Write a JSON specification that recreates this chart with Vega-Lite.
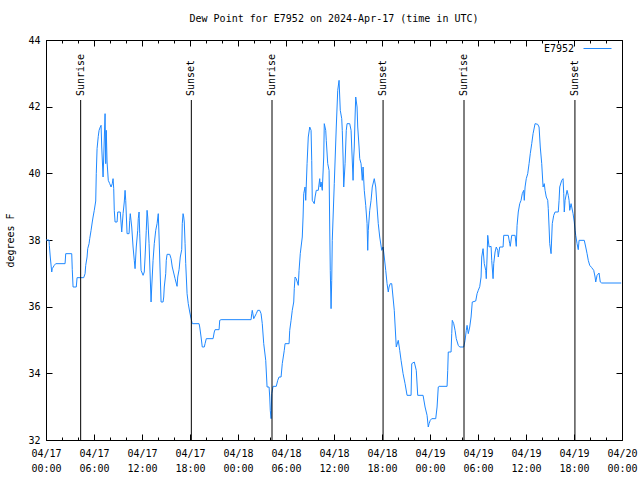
{
"$schema": "https://vega.github.io/schema/vega-lite/v6.json",
"width": 576, "height": 400,
"autosize": {"type": "none"},
"padding": {"left": 46, "top": 40, "right": 18, "bottom": 40},
"background": "white",
"title": {"text": "Dew Point for E7952 on 2024-Apr-17 (time in UTC)", "font": "DejaVu Sans Mono", "fontSize": 10, "fontWeight": "normal", "offset": 10, "anchor": "middle", "color": "black"},
"config": {"view": {"stroke": "black", "strokeWidth": 1}, "axis": {"labelFont": "DejaVu Sans Mono", "labelFontSize": 10, "labelColor": "black", "titleFont": "DejaVu Sans Mono", "titleFontSize": 10, "titleFontWeight": "normal", "titleColor": "black", "tickColor": "black", "domain": false, "grid": false}},
"resolve": {"axis": {"x": "independent", "y": "independent"}},
"datasets": {
"dew": [
{"time":"2024-04-17T00:00Z","dewpoint":38.0},{"time":"2024-04-17T00:23Z","dewpoint":38.0},{"time":"2024-04-17T00:25Z","dewpoint":37.84},{"time":"2024-04-17T00:32Z","dewpoint":37.49},{"time":"2024-04-17T00:43Z","dewpoint":37.04},{"time":"2024-04-17T00:47Z","dewpoint":37.14},{"time":"2024-04-17T01:02Z","dewpoint":37.24},{"time":"2024-04-17T01:13Z","dewpoint":37.29},{"time":"2024-04-17T02:23Z","dewpoint":37.29},{"time":"2024-04-17T02:28Z","dewpoint":37.59},{"time":"2024-04-17T03:13Z","dewpoint":37.59},{"time":"2024-04-17T03:17Z","dewpoint":37.11},{"time":"2024-04-17T03:23Z","dewpoint":36.59},{"time":"2024-04-17T03:47Z","dewpoint":36.59},{"time":"2024-04-17T03:53Z","dewpoint":36.87},{"time":"2024-04-17T04:43Z","dewpoint":36.87},{"time":"2024-04-17T04:53Z","dewpoint":36.99},{"time":"2024-04-17T04:58Z","dewpoint":37.24},{"time":"2024-04-17T05:08Z","dewpoint":37.49},{"time":"2024-04-17T05:13Z","dewpoint":37.74},{"time":"2024-04-17T05:23Z","dewpoint":37.89},{"time":"2024-04-17T05:28Z","dewpoint":38.04},{"time":"2024-04-17T05:38Z","dewpoint":38.29},{"time":"2024-04-17T05:47Z","dewpoint":38.54},{"time":"2024-04-17T05:53Z","dewpoint":38.69},{"time":"2024-04-17T06:02Z","dewpoint":38.89},{"time":"2024-04-17T06:13Z","dewpoint":39.17},{"time":"2024-04-17T06:17Z","dewpoint":39.99},{"time":"2024-04-17T06:23Z","dewpoint":40.74},{"time":"2024-04-17T06:32Z","dewpoint":41.11},{"time":"2024-04-17T06:38Z","dewpoint":41.29},{"time":"2024-04-17T06:47Z","dewpoint":41.39},{"time":"2024-04-17T06:53Z","dewpoint":41.44},{"time":"2024-04-17T06:58Z","dewpoint":40.79},{"time":"2024-04-17T07:08Z","dewpoint":39.89},{"time":"2024-04-17T07:13Z","dewpoint":40.49},{"time":"2024-04-17T07:23Z","dewpoint":41.79},{"time":"2024-04-17T07:28Z","dewpoint":40.29},{"time":"2024-04-17T07:32Z","dewpoint":41.29},{"time":"2024-04-17T07:38Z","dewpoint":40.34},{"time":"2024-04-17T07:47Z","dewpoint":39.79},{"time":"2024-04-17T07:58Z","dewpoint":39.69},{"time":"2024-04-17T08:08Z","dewpoint":39.59},{"time":"2024-04-17T08:17Z","dewpoint":39.69},{"time":"2024-04-17T08:23Z","dewpoint":39.84},{"time":"2024-04-17T08:28Z","dewpoint":39.54},{"time":"2024-04-17T08:32Z","dewpoint":38.89},{"time":"2024-04-17T08:38Z","dewpoint":38.54},{"time":"2024-04-17T08:53Z","dewpoint":38.54},{"time":"2024-04-17T08:58Z","dewpoint":38.84},{"time":"2024-04-17T09:17Z","dewpoint":38.84},{"time":"2024-04-17T09:28Z","dewpoint":38.24},{"time":"2024-04-17T09:38Z","dewpoint":38.79},{"time":"2024-04-17T09:47Z","dewpoint":39.14},{"time":"2024-04-17T09:53Z","dewpoint":39.49},{"time":"2024-04-17T09:58Z","dewpoint":39.19},{"time":"2024-04-17T10:08Z","dewpoint":38.19},{"time":"2024-04-17T10:23Z","dewpoint":38.19},{"time":"2024-04-17T10:28Z","dewpoint":38.59},{"time":"2024-04-17T10:32Z","dewpoint":38.79},{"time":"2024-04-17T10:43Z","dewpoint":38.39},{"time":"2024-04-17T10:53Z","dewpoint":37.79},{"time":"2024-04-17T11:02Z","dewpoint":37.39},{"time":"2024-04-17T11:08Z","dewpoint":37.14},{"time":"2024-04-17T11:17Z","dewpoint":37.79},{"time":"2024-04-17T11:28Z","dewpoint":38.29},{"time":"2024-04-17T11:32Z","dewpoint":38.64},{"time":"2024-04-17T11:38Z","dewpoint":38.84},{"time":"2024-04-17T11:43Z","dewpoint":38.19},{"time":"2024-04-17T11:53Z","dewpoint":37.09},{"time":"2024-04-17T12:08Z","dewpoint":36.94},{"time":"2024-04-17T12:17Z","dewpoint":37.04},{"time":"2024-04-17T12:23Z","dewpoint":37.49},{"time":"2024-04-17T12:32Z","dewpoint":38.29},{"time":"2024-04-17T12:38Z","dewpoint":38.89},{"time":"2024-04-17T12:43Z","dewpoint":38.69},{"time":"2024-04-17T12:53Z","dewpoint":37.89},{"time":"2024-04-17T13:08Z","dewpoint":36.14},{"time":"2024-04-17T13:13Z","dewpoint":36.59},{"time":"2024-04-17T13:23Z","dewpoint":37.39},{"time":"2024-04-17T13:32Z","dewpoint":37.89},{"time":"2024-04-17T13:43Z","dewpoint":38.29},{"time":"2024-04-17T13:53Z","dewpoint":38.49},{"time":"2024-04-17T14:02Z","dewpoint":38.79},{"time":"2024-04-17T14:08Z","dewpoint":38.09},{"time":"2024-04-17T14:23Z","dewpoint":36.14},{"time":"2024-04-17T14:38Z","dewpoint":36.14},{"time":"2024-04-17T14:43Z","dewpoint":36.29},{"time":"2024-04-17T14:47Z","dewpoint":36.59},{"time":"2024-04-17T14:58Z","dewpoint":36.99},{"time":"2024-04-17T15:02Z","dewpoint":37.39},{"time":"2024-04-17T15:08Z","dewpoint":37.57},{"time":"2024-04-17T15:28Z","dewpoint":37.57},{"time":"2024-04-17T15:38Z","dewpoint":37.44},{"time":"2024-04-17T15:47Z","dewpoint":37.19},{"time":"2024-04-17T15:58Z","dewpoint":37.01},{"time":"2024-04-17T16:08Z","dewpoint":36.84},{"time":"2024-04-17T16:23Z","dewpoint":36.61},{"time":"2024-04-17T16:28Z","dewpoint":36.89},{"time":"2024-04-17T16:38Z","dewpoint":37.11},{"time":"2024-04-17T16:47Z","dewpoint":37.49},{"time":"2024-04-17T16:58Z","dewpoint":37.71},{"time":"2024-04-17T17:02Z","dewpoint":38.49},{"time":"2024-04-17T17:08Z","dewpoint":38.79},{"time":"2024-04-17T17:13Z","dewpoint":38.69},{"time":"2024-04-17T17:17Z","dewpoint":38.54},{"time":"2024-04-17T17:23Z","dewpoint":37.89},{"time":"2024-04-17T17:28Z","dewpoint":37.29},{"time":"2024-04-17T17:38Z","dewpoint":36.39},{"time":"2024-04-17T17:47Z","dewpoint":36.09},{"time":"2024-04-17T17:58Z","dewpoint":35.84},{"time":"2024-04-17T18:08Z","dewpoint":35.64},{"time":"2024-04-17T18:17Z","dewpoint":35.49},{"time":"2024-04-17T19:08Z","dewpoint":35.49},{"time":"2024-04-17T19:13Z","dewpoint":35.39},{"time":"2024-04-17T19:23Z","dewpoint":35.09},{"time":"2024-04-17T19:32Z","dewpoint":34.79},{"time":"2024-04-17T19:47Z","dewpoint":34.79},{"time":"2024-04-17T19:53Z","dewpoint":34.89},{"time":"2024-04-17T20:02Z","dewpoint":35.04},{"time":"2024-04-17T20:53Z","dewpoint":35.04},{"time":"2024-04-17T21:02Z","dewpoint":35.24},{"time":"2024-04-17T21:08Z","dewpoint":35.31},{"time":"2024-04-17T21:38Z","dewpoint":35.31},{"time":"2024-04-17T21:43Z","dewpoint":35.59},{"time":"2024-04-17T21:53Z","dewpoint":35.61},{"time":"2024-04-18T01:38Z","dewpoint":35.61},{"time":"2024-04-18T01:43Z","dewpoint":35.79},{"time":"2024-04-18T01:47Z","dewpoint":35.89},{"time":"2024-04-18T01:58Z","dewpoint":35.64},{"time":"2024-04-18T02:17Z","dewpoint":35.79},{"time":"2024-04-18T02:28Z","dewpoint":35.89},{"time":"2024-04-18T02:43Z","dewpoint":35.89},{"time":"2024-04-18T02:53Z","dewpoint":35.79},{"time":"2024-04-18T03:02Z","dewpoint":35.49},{"time":"2024-04-18T03:13Z","dewpoint":34.89},{"time":"2024-04-18T03:28Z","dewpoint":34.39},{"time":"2024-04-18T03:38Z","dewpoint":33.59},{"time":"2024-04-18T03:53Z","dewpoint":33.59},{"time":"2024-04-18T03:58Z","dewpoint":33.29},{"time":"2024-04-18T04:02Z","dewpoint":32.89},{"time":"2024-04-18T04:08Z","dewpoint":32.64},{"time":"2024-04-18T04:13Z","dewpoint":33.39},{"time":"2024-04-18T04:23Z","dewpoint":33.61},{"time":"2024-04-18T04:47Z","dewpoint":33.61},{"time":"2024-04-18T04:58Z","dewpoint":33.79},{"time":"2024-04-18T05:08Z","dewpoint":33.89},{"time":"2024-04-18T05:23Z","dewpoint":33.89},{"time":"2024-04-18T05:32Z","dewpoint":34.29},{"time":"2024-04-18T05:47Z","dewpoint":34.69},{"time":"2024-04-18T05:53Z","dewpoint":34.89},{"time":"2024-04-18T06:23Z","dewpoint":34.89},{"time":"2024-04-18T06:28Z","dewpoint":35.29},{"time":"2024-04-18T06:38Z","dewpoint":35.59},{"time":"2024-04-18T06:47Z","dewpoint":35.89},{"time":"2024-04-18T06:58Z","dewpoint":36.14},{"time":"2024-04-18T07:02Z","dewpoint":36.54},{"time":"2024-04-18T07:08Z","dewpoint":36.89},{"time":"2024-04-18T07:17Z","dewpoint":36.84},{"time":"2024-04-18T07:32Z","dewpoint":36.64},{"time":"2024-04-18T07:38Z","dewpoint":37.09},{"time":"2024-04-18T07:47Z","dewpoint":37.59},{"time":"2024-04-18T08:02Z","dewpoint":38.09},{"time":"2024-04-18T08:08Z","dewpoint":38.69},{"time":"2024-04-18T08:13Z","dewpoint":39.39},{"time":"2024-04-18T08:23Z","dewpoint":39.59},{"time":"2024-04-18T08:28Z","dewpoint":39.19},{"time":"2024-04-18T08:38Z","dewpoint":40.29},{"time":"2024-04-18T08:47Z","dewpoint":41.09},{"time":"2024-04-18T08:58Z","dewpoint":41.39},{"time":"2024-04-18T09:08Z","dewpoint":41.29},{"time":"2024-04-18T09:13Z","dewpoint":40.39},{"time":"2024-04-18T09:17Z","dewpoint":39.19},{"time":"2024-04-18T09:32Z","dewpoint":39.09},{"time":"2024-04-18T09:38Z","dewpoint":39.29},{"time":"2024-04-18T09:47Z","dewpoint":39.49},{"time":"2024-04-18T10:02Z","dewpoint":39.49},{"time":"2024-04-18T10:13Z","dewpoint":39.84},{"time":"2024-04-18T10:17Z","dewpoint":39.59},{"time":"2024-04-18T10:23Z","dewpoint":39.74},{"time":"2024-04-18T10:32Z","dewpoint":39.49},{"time":"2024-04-18T10:43Z","dewpoint":40.49},{"time":"2024-04-18T10:47Z","dewpoint":41.49},{"time":"2024-04-18T10:58Z","dewpoint":41.29},{"time":"2024-04-18T11:02Z","dewpoint":40.99},{"time":"2024-04-18T11:13Z","dewpoint":40.29},{"time":"2024-04-18T11:23Z","dewpoint":40.09},{"time":"2024-04-18T11:28Z","dewpoint":38.39},{"time":"2024-04-18T11:32Z","dewpoint":37.09},{"time":"2024-04-18T11:38Z","dewpoint":35.94},{"time":"2024-04-18T11:43Z","dewpoint":36.79},{"time":"2024-04-18T11:47Z","dewpoint":37.99},{"time":"2024-04-18T12:02Z","dewpoint":39.69},{"time":"2024-04-18T12:17Z","dewpoint":41.39},{"time":"2024-04-18T12:28Z","dewpoint":42.49},{"time":"2024-04-18T12:38Z","dewpoint":42.79},{"time":"2024-04-18T12:43Z","dewpoint":42.29},{"time":"2024-04-18T12:47Z","dewpoint":41.89},{"time":"2024-04-18T12:58Z","dewpoint":41.64},{"time":"2024-04-18T13:02Z","dewpoint":41.29},{"time":"2024-04-18T13:08Z","dewpoint":40.49},{"time":"2024-04-18T13:13Z","dewpoint":39.59},{"time":"2024-04-18T13:23Z","dewpoint":40.29},{"time":"2024-04-18T13:32Z","dewpoint":41.29},{"time":"2024-04-18T13:38Z","dewpoint":41.49},{"time":"2024-04-18T13:58Z","dewpoint":41.49},{"time":"2024-04-18T14:08Z","dewpoint":41.29},{"time":"2024-04-18T14:13Z","dewpoint":40.79},{"time":"2024-04-18T14:23Z","dewpoint":39.79},{"time":"2024-04-18T14:28Z","dewpoint":40.49},{"time":"2024-04-18T14:32Z","dewpoint":40.79},{"time":"2024-04-18T14:38Z","dewpoint":41.69},{"time":"2024-04-18T14:43Z","dewpoint":42.29},{"time":"2024-04-18T14:53Z","dewpoint":41.99},{"time":"2024-04-18T14:58Z","dewpoint":41.39},{"time":"2024-04-18T15:08Z","dewpoint":40.79},{"time":"2024-04-18T15:13Z","dewpoint":40.44},{"time":"2024-04-18T15:23Z","dewpoint":40.29},{"time":"2024-04-18T15:32Z","dewpoint":39.79},{"time":"2024-04-18T15:38Z","dewpoint":40.19},{"time":"2024-04-18T15:47Z","dewpoint":39.49},{"time":"2024-04-18T15:58Z","dewpoint":39.04},{"time":"2024-04-18T16:08Z","dewpoint":38.49},{"time":"2024-04-18T16:13Z","dewpoint":37.69},{"time":"2024-04-18T16:17Z","dewpoint":38.29},{"time":"2024-04-18T16:28Z","dewpoint":38.89},{"time":"2024-04-18T16:38Z","dewpoint":39.19},{"time":"2024-04-18T16:47Z","dewpoint":39.59},{"time":"2024-04-18T17:02Z","dewpoint":39.84},{"time":"2024-04-18T17:13Z","dewpoint":39.59},{"time":"2024-04-18T17:23Z","dewpoint":38.99},{"time":"2024-04-18T17:32Z","dewpoint":38.49},{"time":"2024-04-18T17:43Z","dewpoint":38.09},{"time":"2024-04-18T17:58Z","dewpoint":37.69},{"time":"2024-04-18T18:08Z","dewpoint":37.79},{"time":"2024-04-18T18:17Z","dewpoint":37.49},{"time":"2024-04-18T18:28Z","dewpoint":37.09},{"time":"2024-04-18T18:38Z","dewpoint":36.69},{"time":"2024-04-18T18:47Z","dewpoint":36.44},{"time":"2024-04-18T18:53Z","dewpoint":36.59},{"time":"2024-04-18T19:02Z","dewpoint":36.69},{"time":"2024-04-18T19:13Z","dewpoint":36.69},{"time":"2024-04-18T19:32Z","dewpoint":35.89},{"time":"2024-04-18T19:43Z","dewpoint":35.09},{"time":"2024-04-18T19:47Z","dewpoint":34.79},{"time":"2024-04-18T20:02Z","dewpoint":34.99},{"time":"2024-04-18T20:13Z","dewpoint":34.69},{"time":"2024-04-18T20:23Z","dewpoint":34.39},{"time":"2024-04-18T20:38Z","dewpoint":33.99},{"time":"2024-04-18T20:53Z","dewpoint":33.69},{"time":"2024-04-18T21:08Z","dewpoint":33.34},{"time":"2024-04-18T21:38Z","dewpoint":33.34},{"time":"2024-04-18T21:43Z","dewpoint":34.29},{"time":"2024-04-18T22:02Z","dewpoint":34.34},{"time":"2024-04-18T22:17Z","dewpoint":34.09},{"time":"2024-04-18T22:28Z","dewpoint":33.34},{"time":"2024-04-18T23:08Z","dewpoint":33.34},{"time":"2024-04-18T23:23Z","dewpoint":32.99},{"time":"2024-04-18T23:38Z","dewpoint":32.74},{"time":"2024-04-18T23:47Z","dewpoint":32.39},{"time":"2024-04-18T23:53Z","dewpoint":32.49},{"time":"2024-04-19T00:02Z","dewpoint":32.59},{"time":"2024-04-19T00:13Z","dewpoint":32.64},{"time":"2024-04-19T00:43Z","dewpoint":32.64},{"time":"2024-04-19T00:53Z","dewpoint":32.99},{"time":"2024-04-19T01:02Z","dewpoint":33.59},{"time":"2024-04-19T01:08Z","dewpoint":33.61},{"time":"2024-04-19T02:08Z","dewpoint":33.61},{"time":"2024-04-19T02:13Z","dewpoint":34.09},{"time":"2024-04-19T02:17Z","dewpoint":34.64},{"time":"2024-04-19T02:38Z","dewpoint":34.64},{"time":"2024-04-19T02:43Z","dewpoint":35.19},{"time":"2024-04-19T02:47Z","dewpoint":35.59},{"time":"2024-04-19T02:58Z","dewpoint":35.49},{"time":"2024-04-19T03:08Z","dewpoint":35.29},{"time":"2024-04-19T03:17Z","dewpoint":35.04},{"time":"2024-04-19T03:32Z","dewpoint":34.84},{"time":"2024-04-19T03:43Z","dewpoint":34.79},{"time":"2024-04-19T04:13Z","dewpoint":34.79},{"time":"2024-04-19T04:23Z","dewpoint":34.99},{"time":"2024-04-19T04:32Z","dewpoint":35.29},{"time":"2024-04-19T04:38Z","dewpoint":35.44},{"time":"2024-04-19T04:47Z","dewpoint":35.19},{"time":"2024-04-19T04:58Z","dewpoint":35.39},{"time":"2024-04-19T05:08Z","dewpoint":35.69},{"time":"2024-04-19T05:17Z","dewpoint":36.14},{"time":"2024-04-19T05:43Z","dewpoint":36.17},{"time":"2024-04-19T05:53Z","dewpoint":36.39},{"time":"2024-04-19T06:02Z","dewpoint":36.49},{"time":"2024-04-19T06:13Z","dewpoint":36.6},{"time":"2024-04-19T06:23Z","dewpoint":36.89},{"time":"2024-04-19T06:28Z","dewpoint":37.49},{"time":"2024-04-19T06:38Z","dewpoint":37.74},{"time":"2024-04-19T06:47Z","dewpoint":37.29},{"time":"2024-04-19T06:58Z","dewpoint":37.09},{"time":"2024-04-19T07:02Z","dewpoint":36.84},{"time":"2024-04-19T07:08Z","dewpoint":37.49},{"time":"2024-04-19T07:13Z","dewpoint":38.14},{"time":"2024-04-19T07:23Z","dewpoint":37.79},{"time":"2024-04-19T07:38Z","dewpoint":37.81},{"time":"2024-04-19T07:43Z","dewpoint":37.39},{"time":"2024-04-19T07:53Z","dewpoint":36.84},{"time":"2024-04-19T07:58Z","dewpoint":37.29},{"time":"2024-04-19T08:08Z","dewpoint":37.64},{"time":"2024-04-19T08:17Z","dewpoint":37.79},{"time":"2024-04-19T08:28Z","dewpoint":37.69},{"time":"2024-04-19T08:32Z","dewpoint":37.49},{"time":"2024-04-19T08:43Z","dewpoint":37.79},{"time":"2024-04-19T09:08Z","dewpoint":37.79},{"time":"2024-04-19T09:13Z","dewpoint":38.14},{"time":"2024-04-19T09:47Z","dewpoint":38.14},{"time":"2024-04-19T09:58Z","dewpoint":37.89},{"time":"2024-04-19T10:02Z","dewpoint":37.81},{"time":"2024-04-19T10:13Z","dewpoint":38.14},{"time":"2024-04-19T10:38Z","dewpoint":38.14},{"time":"2024-04-19T10:47Z","dewpoint":37.81},{"time":"2024-04-19T10:53Z","dewpoint":38.44},{"time":"2024-04-19T11:02Z","dewpoint":38.84},{"time":"2024-04-19T11:13Z","dewpoint":39.09},{"time":"2024-04-19T11:23Z","dewpoint":39.19},{"time":"2024-04-19T11:32Z","dewpoint":39.39},{"time":"2024-04-19T11:43Z","dewpoint":39.49},{"time":"2024-04-19T11:47Z","dewpoint":39.19},{"time":"2024-04-19T11:53Z","dewpoint":39.59},{"time":"2024-04-19T12:02Z","dewpoint":39.84},{"time":"2024-04-19T12:13Z","dewpoint":39.99},{"time":"2024-04-19T12:23Z","dewpoint":40.29},{"time":"2024-04-19T12:32Z","dewpoint":40.59},{"time":"2024-04-19T12:43Z","dewpoint":40.89},{"time":"2024-04-19T12:53Z","dewpoint":41.19},{"time":"2024-04-19T13:08Z","dewpoint":41.49},{"time":"2024-04-19T13:28Z","dewpoint":41.47},{"time":"2024-04-19T13:38Z","dewpoint":41.39},{"time":"2024-04-19T13:47Z","dewpoint":40.79},{"time":"2024-04-19T13:58Z","dewpoint":40.29},{"time":"2024-04-19T14:08Z","dewpoint":39.59},{"time":"2024-04-19T14:17Z","dewpoint":39.69},{"time":"2024-04-19T14:23Z","dewpoint":39.49},{"time":"2024-04-19T14:32Z","dewpoint":39.29},{"time":"2024-04-19T14:43Z","dewpoint":39.19},{"time":"2024-04-19T14:47Z","dewpoint":38.94},{"time":"2024-04-19T14:53Z","dewpoint":38.39},{"time":"2024-04-19T14:58Z","dewpoint":37.89},{"time":"2024-04-19T15:08Z","dewpoint":37.59},{"time":"2024-04-19T15:13Z","dewpoint":38.09},{"time":"2024-04-19T15:17Z","dewpoint":38.49},{"time":"2024-04-19T15:28Z","dewpoint":38.74},{"time":"2024-04-19T15:38Z","dewpoint":38.84},{"time":"2024-04-19T16:02Z","dewpoint":38.84},{"time":"2024-04-19T16:08Z","dewpoint":39.19},{"time":"2024-04-19T16:13Z","dewpoint":39.59},{"time":"2024-04-19T16:28Z","dewpoint":39.79},{"time":"2024-04-19T16:38Z","dewpoint":39.84},{"time":"2024-04-19T16:43Z","dewpoint":39.39},{"time":"2024-04-19T16:47Z","dewpoint":38.84},{"time":"2024-04-19T16:53Z","dewpoint":39.19},{"time":"2024-04-19T16:58Z","dewpoint":39.29},{"time":"2024-04-19T17:08Z","dewpoint":39.49},{"time":"2024-04-19T17:17Z","dewpoint":39.34},{"time":"2024-04-19T17:23Z","dewpoint":39.19},{"time":"2024-04-19T17:28Z","dewpoint":38.89},{"time":"2024-04-19T17:38Z","dewpoint":39.09},{"time":"2024-04-19T17:53Z","dewpoint":38.79},{"time":"2024-04-19T18:02Z","dewpoint":38.54},{"time":"2024-04-19T18:08Z","dewpoint":38.29},{"time":"2024-04-19T18:13Z","dewpoint":38.14},{"time":"2024-04-19T18:23Z","dewpoint":37.89},{"time":"2024-04-19T18:32Z","dewpoint":37.71},{"time":"2024-04-19T18:38Z","dewpoint":37.99},{"time":"2024-04-19T19:17Z","dewpoint":37.99},{"time":"2024-04-19T19:28Z","dewpoint":37.79},{"time":"2024-04-19T19:38Z","dewpoint":37.59},{"time":"2024-04-19T19:47Z","dewpoint":37.39},{"time":"2024-04-19T19:58Z","dewpoint":37.24},{"time":"2024-04-19T20:13Z","dewpoint":37.17},{"time":"2024-04-19T20:28Z","dewpoint":37.09},{"time":"2024-04-19T20:38Z","dewpoint":36.89},{"time":"2024-04-19T20:43Z","dewpoint":36.74},{"time":"2024-04-19T20:53Z","dewpoint":36.94},{"time":"2024-04-19T21:08Z","dewpoint":37.01},{"time":"2024-04-19T21:17Z","dewpoint":36.74},{"time":"2024-04-19T21:28Z","dewpoint":36.71},{"time":"2024-04-19T23:54Z","dewpoint":36.71}
],
"sun": [
{"time":"2024-04-17T04:20Z","label":"Sunrise","top":42.2},
{"time":"2024-04-17T18:10Z","label":"Sunset","top":42.2},
{"time":"2024-04-18T04:15Z","label":"Sunrise","top":42.2},
{"time":"2024-04-18T18:08Z","label":"Sunset","top":42.2},
{"time":"2024-04-19T04:15Z","label":"Sunrise","top":42.2},
{"time":"2024-04-19T18:07Z","label":"Sunset","top":42.2}
]
},
"layer": [
{"data": {"name": "dew"},
 "mark": {"type": "line", "strokeWidth": 1},
 "encoding": {
  "x": {"field": "time", "type": "temporal",
        "scale": {"type": "utc", "domain": [1713312000000, 1713571200000], "nice": false},
        "axis": {"orient": "bottom", "title": null, "format": "%m/%d",
                 "values": [1713312000000, 1713333600000, 1713355200000, 1713376800000, 1713398400000, 1713420000000, 1713441600000, 1713463200000, 1713484800000, 1713506400000, 1713528000000, 1713549600000, 1713571200000],
                 "tickSize": -6, "labelOverlap": false, "labelFlush": false, "labelPadding": 14}},
  "y": {"field": "dewpoint", "type": "quantitative",
        "scale": {"domain": [32, 44], "nice": false, "zero": false},
        "axis": {"orient": "left", "title": "degrees F", "values": [32, 34, 36, 38, 40, 42, 44], "tickSize": -6, "labelPadding": 12, "titlePadding": 12}},
  "color": {"datum": "E7952", "scale": {"range": ["#1E88FF"]},
            "legend": {"orient": "none", "legendX": 498, "legendY": -6, "title": "E7952", "titleOrient": "left", "titleAnchor": "middle", "titleBaseline": "top", "titleFont": "DejaVu Sans Mono", "titleFontSize": 10, "titleFontWeight": "normal", "titleColor": "black", "titlePadding": 8, "labelExpr": "''", "symbolType": "stroke", "symbolSize": 784, "symbolStrokeWidth": 1, "padding": 0}}
 }},
{"data": {"name": "sun"},
 "mark": {"type": "rule", "color": "black", "strokeWidth": 1},
 "encoding": {
  "x": {"field": "time", "type": "temporal",
        "axis": {"orient": "bottom", "title": null, "format": "%H:%M", "ticks": false,
                 "values": [1713312000000, 1713333600000, 1713355200000, 1713376800000, 1713398400000, 1713420000000, 1713441600000, 1713463200000, 1713484800000, 1713506400000, 1713528000000, 1713549600000, 1713571200000],
                 "labelOverlap": false, "labelFlush": false, "labelPadding": 23}},
  "y": {"field": "top", "type": "quantitative",
        "axis": {"orient": "right", "title": null, "labels": false, "values": [32, 34, 36, 38, 40, 42, 44], "tickSize": -6}},
  "y2": {"datum": 32}
 }},
{"data": {"name": "sun"},
 "mark": {"type": "text", "angle": 270, "align": "left", "baseline": "middle", "dx": 4, "font": "DejaVu Sans Mono", "fontSize": 10, "color": "black"},
 "encoding": {
  "x": {"field": "time", "type": "temporal",
        "axis": {"orient": "bottom", "title": null, "labels": false, "tickSize": -3,
                 "values": [1713312000000, 1713319200000, 1713326400000, 1713333600000, 1713340800000, 1713348000000, 1713355200000, 1713362400000, 1713369600000, 1713376800000, 1713384000000, 1713391200000, 1713398400000, 1713405600000, 1713412800000, 1713420000000, 1713427200000, 1713434400000, 1713441600000, 1713448800000, 1713456000000, 1713463200000, 1713470400000, 1713477600000, 1713484800000, 1713492000000, 1713499200000, 1713506400000, 1713513600000, 1713520800000, 1713528000000, 1713535200000, 1713542400000, 1713549600000, 1713556800000, 1713564000000, 1713571200000]}},
  "y": {"field": "top", "type": "quantitative", "axis": null},
  "text": {"field": "label"}
 }},
{"data": {"name": "sun"},
 "mark": {"type": "rule", "color": "black", "strokeWidth": 1, "opacity": 0},
 "encoding": {
  "x": {"field": "time", "type": "temporal",
        "axis": {"orient": "top", "title": null, "labels": false, "tickSize": -6,
                 "values": [1713312000000, 1713333600000, 1713355200000, 1713376800000, 1713398400000, 1713420000000, 1713441600000, 1713463200000, 1713484800000, 1713506400000, 1713528000000, 1713549600000, 1713571200000]}},
  "y": {"field": "top", "type": "quantitative", "axis": null},
  "y2": {"datum": 32}
 }},
{"data": {"name": "sun"},
 "mark": {"type": "rule", "color": "black", "strokeWidth": 1, "opacity": 0},
 "encoding": {
  "x": {"field": "time", "type": "temporal",
        "axis": {"orient": "top", "title": null, "labels": false, "tickSize": -3,
                 "values": [1713312000000, 1713319200000, 1713326400000, 1713333600000, 1713340800000, 1713348000000, 1713355200000, 1713362400000, 1713369600000, 1713376800000, 1713384000000, 1713391200000, 1713398400000, 1713405600000, 1713412800000, 1713420000000, 1713427200000, 1713434400000, 1713441600000, 1713448800000, 1713456000000, 1713463200000, 1713470400000, 1713477600000, 1713484800000, 1713492000000, 1713499200000, 1713506400000, 1713513600000, 1713520800000, 1713528000000, 1713535200000, 1713542400000, 1713549600000, 1713556800000, 1713564000000, 1713571200000]}},
  "y": {"field": "top", "type": "quantitative", "axis": null},
  "y2": {"datum": 32}
 }}
]
}
